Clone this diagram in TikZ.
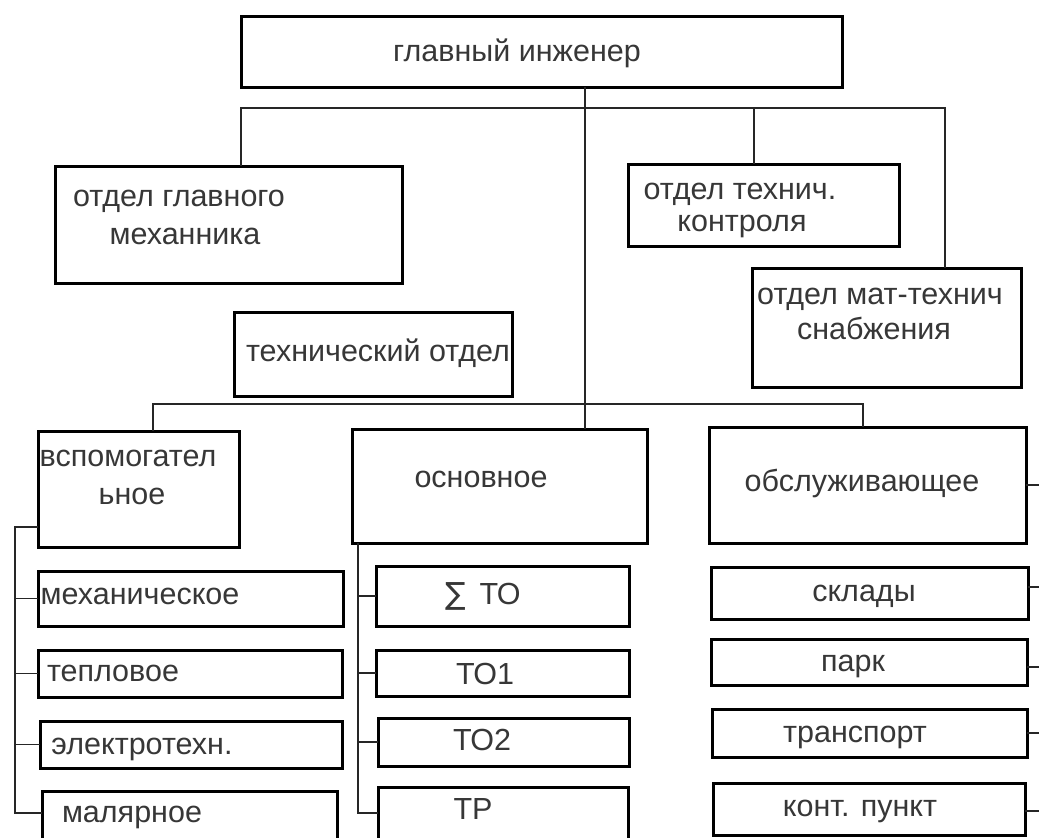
\documentclass[tikz,border=0pt]{standalone}
\usepackage{fontspec}
\setmainfont{Liberation Sans}
\newfontfamily\symfont{DejaVu Sans}
\definecolor{txt}{RGB}{55,55,55}
\newcommand\bx[5]{\node[box,minimum width={(#4-#2)*1pt},minimum height={(#5-#3)*1pt}] (#1) at (#2,#3) {};}
\begin{document}
\begin{tikzpicture}[x=1pt,y=-1pt,
  box/.style={draw=black,line width=3pt,anchor=north west,inner sep=0pt,outer sep=0pt},
  lbl/.style={anchor=mid,yshift=-7pt,text=txt,inner sep=0pt,font=\fontsize{30.5}{34}\selectfont},
  conn/.style={line width=1.6pt,draw=black!85}]
\useasboundingbox[fill=white] (0,0) rectangle (1039,838);
% boxes
\bx{top}{241}{16}{842}{87}
\bx{mech}{55}{166}{402}{283}
\bx{kontr}{628}{164}{899}{246}
\bx{mattech}{752}{268}{1021}{387}
\bx{techdept}{234}{312}{512}{396}
\bx{vspom}{38}{431}{239}{547}
\bx{osn}{352}{429}{647}{543}
\bx{obsl}{709}{427}{1026}{543}
\bx{mechan}{38}{571}{343}{626}
\bx{teplo}{38}{650}{342}{697}
\bx{elektro}{40}{721}{342}{768}
\bx{maljar}{42}{791}{337}{850}
\bx{sumTO}{376}{566}{629}{626}
\bx{TOa}{376}{650}{629}{696}
\bx{TOb}{378}{718}{629}{766}
\bx{TR}{378}{787}{628}{850}
\bx{sklady}{711}{567}{1028}{619}
\bx{park}{711}{639}{1027}{685}
\bx{transp}{712}{709}{1027}{757}
\bx{kont}{713}{783}{1025}{835}
% texts
\node[lbl] (ttop) at (517,52) {главный инженер};
\node[lbl] (tmech1) at (179,197) {отдел главного};
\node[lbl] (tmech2) at (185,235) {механника};
\node[lbl] (tkontr1) at (740,190) {отдел технич.};
\node[lbl] (tkontr2) at (742,222) {контроля};
\node[lbl] (tmat1) at (880,295) {отдел мат-технич};
\node[lbl] (tmat2) at (874,330) {снабжения};
\node[lbl] (ttech) at (378,352) {технический отдел};
\node[lbl] (tvsp1) at (128,457) {вспомогател};
\node[lbl] (tvsp2) at (132,495) {ьное};
\node[lbl] (tosn) at (481,478) {основное};
\node[lbl] (tobsl) at (862,482) {обслуживающее};
\node[lbl] (tmechan) at (140,595) {механическое};
\node[lbl] (tteplo) at (113,672) {тепловое};
\node[lbl] (telektro) at (142,745) {электротехн.};
\node[lbl] (tmaljar) at (132,813) {малярное};
\node[lbl] (tsum) at (483,595) {{\symfont ∑}\, ТО};
\node[lbl] (tTOa) at (485,675) {ТО1};
\node[lbl] (tTOb) at (482,741) {ТО2};
\node[lbl] (tTR) at (473,810) {ТР};
\node[lbl] (tsklady) at (864,592) {склады};
\node[lbl] (tpark) at (853,662) {парк};
\node[lbl] (ttransp) at (855,733) {транспорт};
\node[lbl] (tkont) at (860,807) {конт. пункт};
% connector coordinates
\coordinate (spine) at (585,0);
\coordinate (a1) at (241,108);
\coordinate (a2) at (945,108);
\coordinate (a3) at (754,108);
\coordinate (b1) at (153,404);
\coordinate (b2) at (863,404);
\coordinate (c1) at (15,527);
\coordinate (c4) at (15,813);
\coordinate (m0) at (358,0);
\coordinate (m4) at (358,813);
\coordinate (rr) at (1039,0);
\coordinate (y1) at (0,587);
\coordinate (y2) at (0,667);
\coordinate (y4) at (0,811);
% connectors
\draw[conn] (top.south -| spine) -- (osn.north -| spine);
\draw[conn] (mech.north -| a1) -- (a1) -- (a2) -- (mattech.north -| a2);
\draw[conn] (a3) -- (kontr.north -| a3);
\draw[conn] (vspom.north -| b1) -- (b1) -- (b2) -- (obsl.north -| b2);
\draw[conn] (vspom.west |- c1) -- (c1) -- (c4) -- (maljar.west |- c4);
\draw[conn] (c1 |- mechan.west) -- (mechan.west);
\draw[conn] (c1 |- teplo.west) -- (teplo.west);
\draw[conn] (c1 |- elektro.west) -- (elektro.west);
\draw[conn] (osn.south -| m0) -- (m4) -- (TR.west |- m4);
\draw[conn] (m0 |- sumTO.west) -- (sumTO.west);
\draw[conn] (m0 |- TOa.west) -- (TOa.west);
\draw[conn] (m0 |- TOb.west) -- (TOb.west);
\draw[conn] (obsl.east) -- (obsl.east -| rr);
\draw[conn] (sklady.east |- y1) -- (rr |- y1);
\draw[conn] (park.east |- y2) -- (rr |- y2);
\draw[conn] (transp.east) -- (transp.east -| rr);
\draw[conn] (kont.east |- y4) -- (rr |- y4);
\end{tikzpicture}
\end{document}
